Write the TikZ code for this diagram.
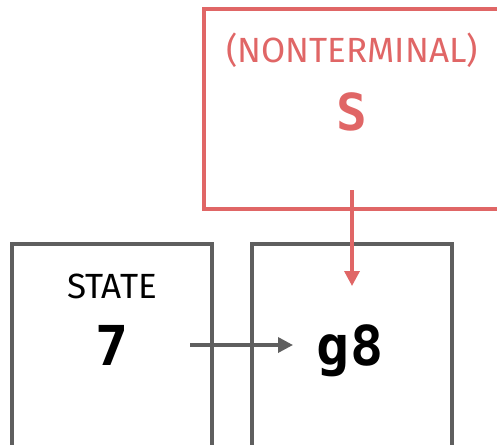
\documentclass[tikz,border=0pt]{standalone}
\usepackage{fontspec}
\newfontfamily\labelfont{Fira Sans}
\newfontfamily\codefont{DejaVu Sans Mono Bold}
\usetikzlibrary{arrows.meta}
\definecolor{ntred}{HTML}{E06666}
\definecolor{boxgray}{HTML}{5F5F5F}
\begin{document}
\begin{tikzpicture}[x=1pt,y=-1pt]\tikzstyle{every node}=[inner sep=0pt, outer sep=0pt]
\tikzstyle{cell}=[draw=boxgray, line width=3.4pt, minimum width=200pt, minimum height=214pt, anchor=north west]
\tikzstyle{ntcell}=[draw=ntred, line width=3.4pt, minimum width=300pt, minimum height=200pt, anchor=north west]
\tikzstyle{caption}=[anchor=base, font=\labelfont\fontsize{35}{40}\selectfont]
\tikzstyle{symbol}=[anchor=base, font=\codefont\fontsize{55}{60}\selectfont]
\tikzstyle{flow}=[line width=3.4pt, -{Triangle[length=15pt, width=15pt]}]
  \useasboundingbox (0,0) rectangle (497,444);
  \clip (0,0) rectangle (497,444);
% nonterminal
  \node[ntcell] (ntbox) at (204,9) {};
  \node[caption, text=ntred] (nttitle) at (352,63) {(NONTERMINAL)};
  \node[symbol, text=ntred, font=\codefont\fontsize{51}{60}\selectfont] (ntS) at (352,130) {S};
% state 7
  \node[cell] (statebox) at (12,244) {};
  \node[caption] (statetitle) at (112,298) {STATE};
  \node[symbol] (state7) at (112,365) {7};
% goto
  \node[cell] (gotobox) at (252,244) {};
  \node[symbol] (goto8) at (350,365) {g8};
% arrows
  \coordinate (from7) at (190,345);
  \coordinate (tog8) at (293,345);
  \coordinate (fromS) at (352,190);
  \coordinate (abovg8) at (352,286);
  \draw[flow, draw=boxgray, fill=boxgray] (from7) -- (tog8);
  \draw[flow, draw=ntred, fill=ntred] (fromS) -- (abovg8);
\end{tikzpicture}
\end{document}
